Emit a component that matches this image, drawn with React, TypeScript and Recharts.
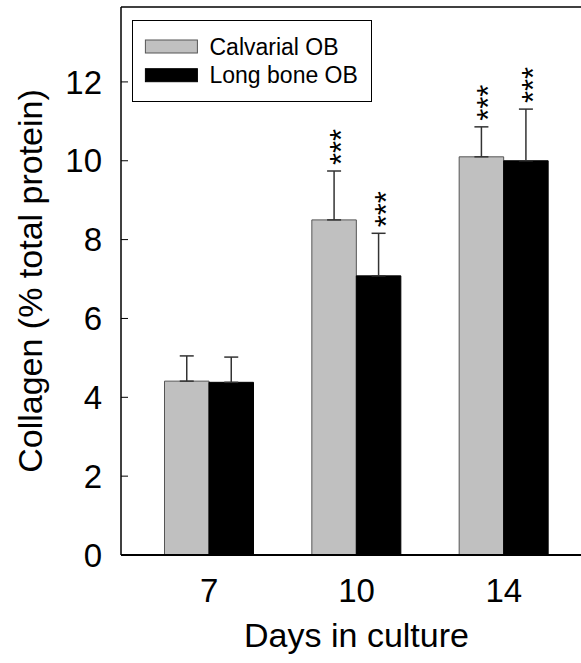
import React from 'react';
import { BarChart, Bar, XAxis, YAxis, ErrorBar, LabelList, Legend, ReferenceLine, Label } from 'recharts';

const days = ['7', '10', '14'];
const calvarial = [4.41, 8.5, 10.1];
const calvarialErr = [0.64, 1.24, 0.76];
const longBone = [4.38, 7.08, 10.0];
const longBoneErr = [0.64, 1.08, 1.31];
const calvarialSig = ['', '***', '***'];
const longBoneSig = ['', '***', '***'];
const yTicks = [0, 2, 4, 6, 8, 10, 12];
const yMax = 13.9;

const data = days.map((d, i) => ({
  day: d,
  calvarial: calvarial[i],
  calvarialErr: [0, calvarialErr[i]],
  calvarialSig: calvarialSig[i],
  longBone: longBone[i],
  longBoneErr: [0, longBoneErr[i]],
  longBoneSig: longBoneSig[i],
}));

const FONT = 'Liberation Sans, Arial, Helvetica, sans-serif';

const makeStars = (vals: number[], errs: number[]) => (props: any) => {
  const { x, y, width, height, value, index } = props;
  if (!value) return null;
  const v = vals[index];
  const e = errs[index];
  const pxPerUnit = height / v;
  const errTop = y - e * pxPerUnit;
  const cx = x + width / 2;
  const ay = errTop - 6;
  const bx = cx + 18;
  return (
    <text
      x={bx}
      y={ay}
      transform={`rotate(-90, ${bx}, ${ay})`}
      fontSize={31}
      fontFamily={FONT}
      fill="#000"
      textAnchor="start"
    >
      {value}
    </text>
  );
};

const LegendBox = (props: any) => {
  const { payload } = props;
  return (
    <svg width={241} height={83} style={{ display: 'block' }}>
      <rect x={0.5} y={0.5} width={239} height={81} fill="#fff" stroke="#000" strokeWidth={1} />
      {(payload || []).map((p: any, i: number) => {
        const top = i === 0 ? 20 : 48.7;
        return (
          <g key={i}>
            <rect x={13.4} y={top} width={52} height={13} fill={p.color} stroke={i === 0 ? '#555' : '#000'} strokeWidth={1} />
            <text x={77.5} y={top + 6.5} dominantBaseline="central" fontSize={23} fontFamily={FONT} fill="#000">
              {p.value}
            </text>
          </g>
        );
      })}
    </svg>
  );
};

const YLabel = (props: any) => {
  const { viewBox } = props;
  const cy = viewBox.y + viewBox.height / 2;
  const cx = 30;
  return (
    <text
      x={cx}
      y={cy}
      transform={`rotate(-90, ${cx}, ${cy})`}
      textAnchor="middle"
      dominantBaseline="central"
      fontSize={34}
      fontFamily={FONT}
      fill="#000"
    >
      Collagen (% total protein)
    </text>
  );
};

export default function App() {
  return (
    <div style={{ position: 'absolute', left: 0, top: 0, width: 581, height: 663, overflow: 'hidden', background: '#fff' }}>
      <BarChart
        width={600}
        height={663}
        data={data}
        margin={{ top: 7, right: 8, bottom: 0, left: 0 }}
        barSize={44.5}
        barGap={0}
      >
        <XAxis
          dataKey="day"
          padding={{ left: 14.5, right: 14.5 }}
          height={108}
          tickLine={false}
          tickSize={0}
          tickMargin={24}
          axisLine={{ stroke: '#000', strokeWidth: 2 }}
          tick={{ fill: '#000', fontSize: 33, fontFamily: FONT }}
        >
          <Label value="Days in culture" position="insideBottom" offset={16} fill="#000" fontSize={34} fontFamily={FONT} />
        </XAxis>
        <YAxis
          domain={[0, yMax]}
          ticks={yTicks}
          width={121}
          tickSize={-7}
          tickMargin={26}
          axisLine={{ stroke: '#000', strokeWidth: 1.5 }}
          tickLine={{ stroke: '#000', strokeWidth: 1 }}
          tick={{ fill: '#000', fontSize: 33, fontFamily: FONT }}
          allowDataOverflow
        >
          <Label content={<YLabel />} />
        </YAxis>
        <ReferenceLine y={yMax} stroke="#000" strokeWidth={1.5} />
        <Legend
          layout="vertical"
          verticalAlign="middle"
          align="center"
          content={<LegendBox />}
          wrapperStyle={{ position: 'absolute', left: 132, top: 20, width: 241, height: 83 }}
        />
        <Bar dataKey="calvarial" name="Calvarial OB" fill="#c0c0c0" stroke="#555" strokeWidth={1} isAnimationActive={false}>
          <ErrorBar dataKey="calvarialErr" direction="y" width={7} stroke="#333" strokeWidth={1.5} isAnimationActive={false} />
          <LabelList dataKey="calvarialSig" content={makeStars(calvarial, calvarialErr)} />
        </Bar>
        <Bar dataKey="longBone" name="Long bone OB" fill="#000" stroke="#000" strokeWidth={1} isAnimationActive={false}>
          <ErrorBar dataKey="longBoneErr" direction="y" width={7} stroke="#333" strokeWidth={1.5} isAnimationActive={false} />
          <LabelList dataKey="longBoneSig" content={makeStars(longBone, longBoneErr)} />
        </Bar>
      </BarChart>
    </div>
  );
}
